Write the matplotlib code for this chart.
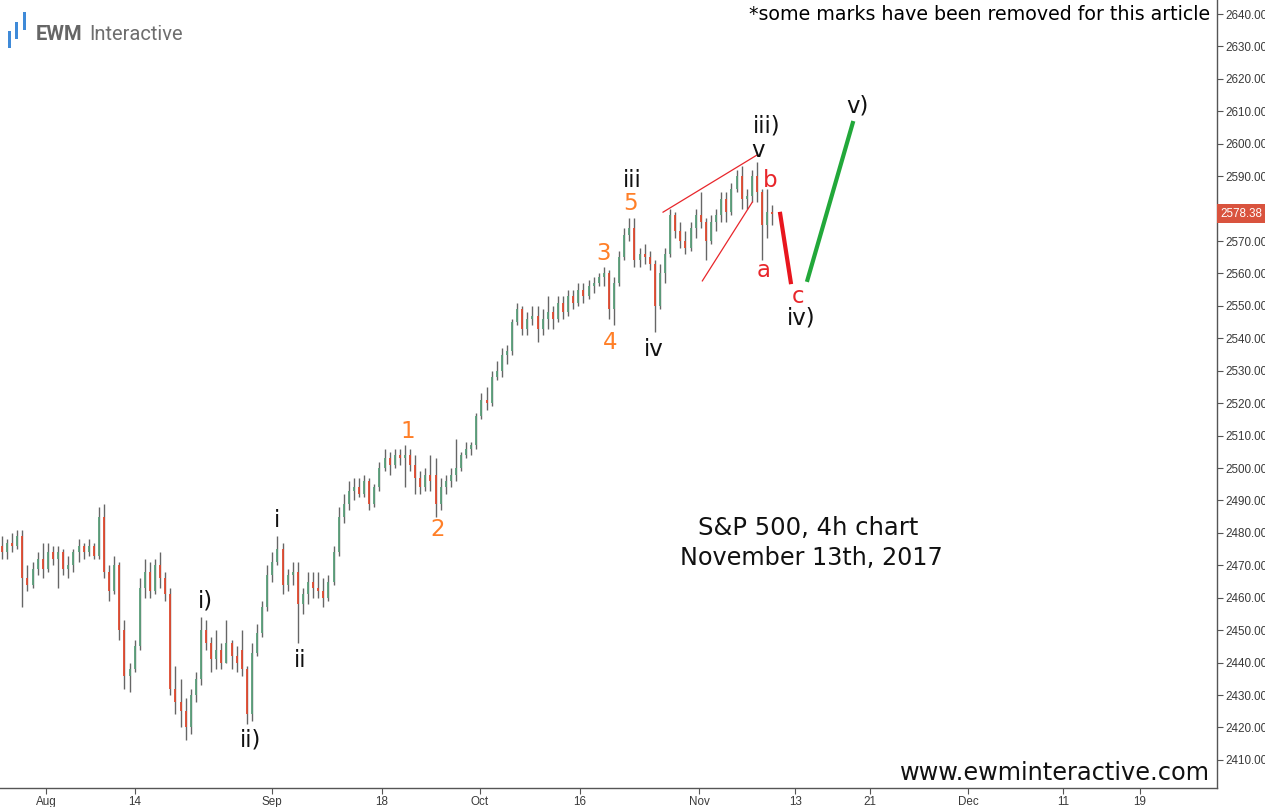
import numpy as np
import matplotlib
matplotlib.use('Agg')
import matplotlib.pyplot as plt
from matplotlib.collections import LineCollection
from matplotlib.patches import Rectangle

# 4h OHLC bars, S&P 500
opens = [2476, 2474, 2477, 2476, 2479, 2466, 2464, 2469, 2472, 2469,
         2474, 2472, 2474, 2469, 2470, 2474, 2476, 2474, 2476, 2473,
         2485, 2468, 2462, 2470, 2450, 2436, 2438, 2445, 2463, 2468,
         2462, 2470, 2466, 2461, 2432, 2428, 2425, 2420, 2430, 2435,
         2450, 2446, 2441, 2444, 2440, 2446, 2442, 2444, 2438, 2424,
         2443, 2449, 2457, 2467, 2471, 2475, 2464, 2467, 2468, 2458,
         2461, 2465, 2463, 2462, 2460, 2465, 2474, 2485, 2489, 2493,
         2494, 2492, 2496, 2489, 2494, 2500, 2503, 2501, 2504, 2503,
         2504, 2501, 2497, 2494, 2498, 2498, 2489, 2494, 2496, 2498,
         2500, 2504, 2506, 2507, 2516, 2521, 2520, 2528, 2530, 2535,
         2536, 2545, 2549, 2543, 2546, 2547, 2543, 2546, 2548, 2546,
         2551, 2548, 2553, 2551, 2555, 2553, 2556, 2557, 2559, 2560,
         2549, 2557, 2565, 2572, 2574, 2564, 2566, 2565, 2563, 2550,
         2560, 2566, 2578, 2573, 2570, 2568, 2574, 2578, 2576, 2570,
         2576, 2578, 2583, 2579, 2586, 2590, 2583, 2584, 2590, 2585,
         2575, 2579]
highs = [2479, 2478, 2480, 2481, 2481, 2470, 2471, 2474, 2477, 2477,
         2476, 2476, 2475, 2473, 2475, 2478, 2477, 2478, 2477, 2488,
         2489, 2470, 2473, 2471, 2453, 2440, 2447, 2466, 2472, 2471,
         2472, 2474, 2468, 2463, 2439, 2435, 2429, 2432, 2437, 2454,
         2453, 2448, 2450, 2446, 2453, 2447, 2445, 2450, 2439, 2446,
         2452, 2459, 2470, 2474, 2479, 2477, 2469, 2471, 2471, 2463,
         2468, 2468, 2468, 2466, 2467, 2476, 2488, 2492, 2496, 2497,
         2497, 2498, 2497, 2495, 2502, 2506, 2505, 2506, 2506, 2507,
         2506, 2504, 2499, 2500, 2504, 2503, 2497, 2498, 2500, 2509,
         2505, 2508, 2508, 2517, 2523, 2525, 2530, 2533, 2537, 2538,
         2546, 2551, 2550, 2548, 2550, 2550, 2549, 2553, 2550, 2553,
         2553, 2555, 2555, 2557, 2557, 2558, 2559, 2560, 2562, 2561,
         2559, 2567, 2574, 2577, 2577, 2568, 2569, 2567, 2564, 2563,
         2568, 2580, 2579, 2576, 2573, 2576, 2580, 2585, 2577, 2578,
         2580, 2585, 2585, 2588, 2592, 2593, 2586, 2592, 2594.4, 2586,
         2586, 2581]
lows = [2472, 2472, 2474, 2475, 2457, 2462, 2463, 2467, 2466, 2468,
        2470, 2463, 2467, 2466, 2468, 2471, 2472, 2473, 2472, 2472,
        2466, 2459, 2461, 2447, 2432, 2431, 2437, 2444, 2460, 2460,
        2461, 2463, 2459, 2430, 2424, 2420, 2416, 2418, 2428, 2433,
        2444, 2437, 2438, 2438, 2440, 2438, 2437, 2436, 2421, 2422,
        2442, 2448, 2456, 2465, 2470, 2461, 2462, 2464, 2446, 2455,
        2458, 2460, 2460, 2457, 2459, 2464, 2473, 2483, 2487, 2490,
        2491, 2491, 2487, 2488, 2493, 2499, 2498, 2500, 2501, 2494,
        2499, 2492, 2492, 2493, 2493, 2485, 2487, 2492, 2494, 2496,
        2499, 2503, 2504, 2506, 2515, 2518, 2519, 2527, 2528, 2532,
        2535, 2544, 2541, 2541, 2544, 2539, 2541, 2543, 2543, 2545,
        2546, 2547, 2549, 2550, 2551, 2552, 2554, 2556, 2556, 2546,
        2544, 2556, 2564, 2570, 2562, 2562, 2563, 2561, 2542, 2549,
        2557, 2565, 2571, 2568, 2566, 2567, 2571, 2574, 2564, 2569,
        2573, 2576, 2576, 2578, 2585, 2580, 2580, 2582, 2582, 2564,
        2571, 2575]
closes = [2474, 2477, 2476, 2479, 2466, 2464, 2469, 2472, 2469, 2474,
          2472, 2474, 2469, 2470, 2474, 2476, 2474, 2476, 2473, 2485,
          2468, 2462, 2470, 2450, 2436, 2438, 2445, 2463, 2468, 2462,
          2470, 2466, 2461, 2432, 2428, 2425, 2420, 2430, 2435, 2450,
          2446, 2441, 2444, 2440, 2446, 2442, 2440, 2438, 2424, 2443,
          2449, 2457, 2467, 2471, 2475, 2464, 2467, 2468, 2458, 2461,
          2465, 2463, 2462, 2460, 2465, 2474, 2485, 2489, 2493, 2494,
          2492, 2496, 2489, 2494, 2500, 2503, 2501, 2504, 2503, 2504,
          2501, 2497, 2494, 2498, 2496, 2489, 2494, 2496, 2498, 2500,
          2504, 2506, 2507, 2516, 2521, 2520, 2528, 2530, 2535, 2536,
          2545, 2549, 2543, 2546, 2547, 2543, 2546, 2548, 2546, 2551,
          2548, 2553, 2551, 2555, 2553, 2556, 2557, 2559, 2560, 2549,
          2557, 2565, 2572, 2574, 2564, 2566, 2565, 2563, 2550, 2560,
          2566, 2578, 2573, 2570, 2568, 2574, 2578, 2576, 2570, 2576,
          2578, 2583, 2579, 2586, 2590, 2583, 2584, 2590, 2585, 2575,
          2579, 2578.38]
last_price = 2578.38

# date axis (bar index units)
tick_pos = [8.6, 26.1, 52.9, 74.5, 93.7, 113.3, 136.7, 155.5, 170.2, 189.4, 208.0, 223.1]
tick_labels = ['Aug', '14', 'Sep', '18', 'Oct', '16', 'Nov', '13', '21', 'Dec', '11', '19']

# wave labels: text, x, price, colour
black = '#111111'
orange = '#ff7f27'
red = '#e8262b'
wave_labels = [('i)', 39.8, 2459.0, black), ('ii)', 48.8, 2416.1, black),
               ('i', 53.9, 2483.7, black), ('ii', 58.4, 2440.8, black),
               ('1', 79.6, 2511.4, orange), ('2', 85.5, 2480.9, orange),
               ('3', 118.0, 2566.3, orange), ('4', 119.2, 2538.6, orange),
               ('5', 123.3, 2581.7, orange), ('iii', 123.5, 2588.8, black),
               ('iv', 127.8, 2536.7, black), ('v', 148.2, 2598.0, black),
               ('iii)', 150.0, 2605.6, black), ('b', 150.6, 2588.8, red),
               ('a', 149.4, 2560.8, red), ('c', 156.1, 2553.0, red),
               ('iv)', 156.7, 2546.3, black), ('v)', 167.8, 2611.6, black)]

# drawn lines: (x0, x1), (y0, y1)
wedge_top = ([129.6, 148.0], [2578.9, 2596.5])
wedge_bot = ([137.3, 147.1], [2557.7, 2582.0])
path_c = ([152.5, 154.7], [2579.0, 2556.7])
path_v = ([157.8, 166.9], [2557.4, 2607.0])

W, H = 1265, 807
fig = plt.figure(figsize=(W / 100, H / 100), dpi=100)
ax = fig.add_axes([0, 19 / H, 1217 / W, 788 / H])

xs = np.arange(len(opens))
wicks = [[(x, l), (x, h)] for x, l, h in zip(xs, lows, highs)]
bodies = [[(x, o), (x, c)] for x, o, c in zip(xs, opens, closes)]
bcols = ['#5a9f7b' if c >= o else '#e04a2f' for o, c in zip(opens, closes)]
ax.add_collection(LineCollection(wicks, colors='#666666', linewidths=1.0, zorder=2))
ax.add_collection(LineCollection(bodies, colors=bcols, linewidths=1.3, zorder=3))

ax.plot(*wedge_top, color='#e8262b', lw=0.9, zorder=4)
ax.plot(*wedge_bot, color='#e8262b', lw=0.9, zorder=4)
ax.plot(*path_c, color='#e8161e', lw=3.0, solid_capstyle='butt', zorder=4)
ax.plot(*path_v, color='#22a83a', lw=3.0, solid_capstyle='butt', zorder=4)

for s, x, y, col in wave_labels:
    ax.text(x, y, s, ha='center', va='center', fontsize=16.5, color=col, zorder=5)

ax.set_xlim(-0.39, 238.2)
ax.set_ylim(2401.33, 2644.32)

ax.yaxis.tick_right()
yt = np.arange(2410, 2641, 10)
ax.set_yticks(yt)
ax.set_yticklabels(['%.2f' % v for v in yt], fontfamily='Liberation Sans')
ax.set_xticks(tick_pos)
ax.set_xticklabels(tick_labels, fontfamily='Liberation Sans')
ax.tick_params('both', direction='out', length=4, width=0.8, color='#555555',
               labelcolor='#3a3a3a', labelsize=8.4)
ax.tick_params('y', pad=2)
ax.tick_params('x', pad=2)
for side in ['top', 'left']:
    ax.spines[side].set_visible(False)
for side in ['right', 'bottom']:
    ax.spines[side].set_color('#555555')
    ax.spines[side].set_linewidth(1.0)

# last price tag
ax.annotate('%.2f' % last_price, xy=(1.0, last_price), xycoords=('axes fraction', 'data'),
            xytext=(2.5, 0), textcoords='offset points', ha='left', va='center',
            fontsize=8.4, color='white', fontfamily='Liberation Sans', annotation_clip=False,
            bbox=dict(boxstyle='square,pad=0.3', fc='#d9533e', ec='none'), zorder=10)

# captions
fig.text(1210 / W, 1 - 15 / H, '*some marks have been removed for this article',
         ha='right', va='center', fontsize=13.7, color='black')
fig.text(808 / W, 1 - 528 / H, 'S&P 500, 4h chart', ha='center', va='center',
         fontsize=17.5, color=black)
fig.text(811 / W, 1 - 558 / H, 'November 13th, 2017', ha='center', va='center',
         fontsize=17.2, color=black)
fig.text(1210 / W, 1 - 773 / H, 'www.ewminteractive.com', ha='right', va='center',
         fontsize=17.3, color=black)

# logo
for (x0, y0, y1) in [(8, 31, 48), (15, 22, 39), (23, 12, 30)]:
    fig.patches.append(Rectangle((x0 / W, 1 - y1 / H), 3 / W, (y1 - y0) / H,
                                 transform=fig.transFigure, fc='#3f8ad8', ec='none'))
fig.text(36 / W, 1 - 40 / H, 'EWM', ha='left', va='baseline', fontsize=14.5,
         fontfamily='Roboto', fontweight='bold', color='#666666')
fig.text(89 / W, 1 - 40 / H, 'Interactive', ha='left', va='baseline', fontsize=14.5,
         fontfamily='Roboto', color='#6e6e6e')

fig.savefig('out.png', dpi=100)
